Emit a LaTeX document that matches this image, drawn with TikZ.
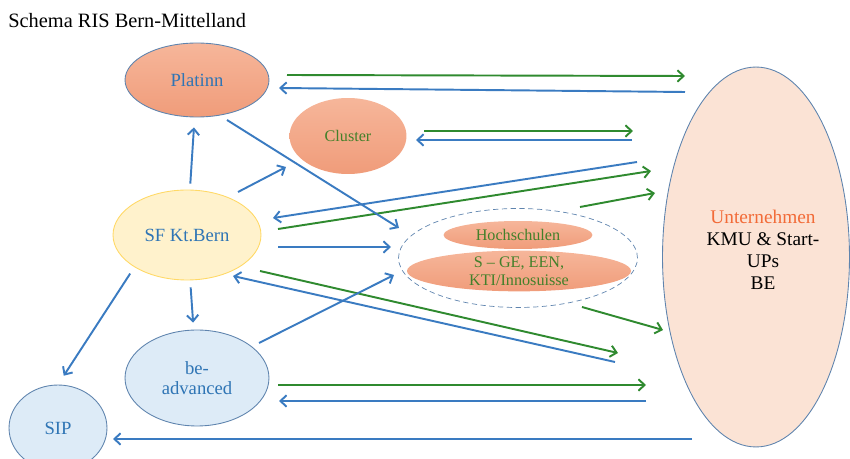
\documentclass[tikz,border=0pt]{standalone}
\usepackage{fontspec}
\setmainfont{Liberation Serif}
\usetikzlibrary{shapes.geometric,arrows.meta}

\definecolor{risblue}{HTML}{3A7BC1}
\definecolor{risgreen}{HTML}{2F8A2F}
\definecolor{textblue}{HTML}{2F75B5}
\definecolor{textgreen}{HTML}{43802A}
\definecolor{textorange}{HTML}{F26B38}
\definecolor{salmontop}{HTML}{F6B69A}
\definecolor{salmonbot}{HTML}{F09C7A}
\definecolor{edgeblue}{HTML}{5F84AE}
\definecolor{sfyellow}{HTML}{FFF2CC}
\definecolor{sfedge}{HTML}{FFD966}
\definecolor{lightblue}{HTML}{DDEBF7}
\definecolor{peach}{HTML}{FBE3D5}

\begin{document}
\begin{tikzpicture}[x=0.02cm,y=-0.02cm,font=\fontsize{10.6}{12.5}\selectfont,
	>={Straight Barb[length=3.5pt,width=6.5pt]}]
	
	% Styles for the blobs and the two kinds of arrows
	\tikzset{
		salmonblob/.style={ellipse,top color=salmontop,bottom color=salmonbot,
			inner sep=0pt,font=\fontsize{9.2}{10.2}\selectfont,text=textgreen,align=center},
		blueblob/.style={ellipse,draw=edgeblue,line width=0.5pt,fill=lightblue,
			inner sep=0pt,text=textblue,align=center},
		barrow/.style={->,color=risblue,line width=1.1pt},
		garrow/.style={->,color=risgreen,line width=1.1pt}
	}
	
	\useasboundingbox (0,0) rectangle (850,459);
	
	% Title
	\node[anchor=west,inner sep=0pt,font=\fontsize{11.6}{13}\selectfont] (title) at (8,21)
	{Schema RIS Bern-Mittelland};
	
	%========================================
	% Blobs
	%========================================
	\node[salmonblob,draw=edgeblue,line width=0.5pt,text=textblue,
	font=\fontsize{10.6}{12.5}\selectfont,
	minimum width=2.88cm,minimum height=1.48cm] (platinn) at (197,80) {Platinn};
	\node[salmonblob,minimum width=2.34cm,minimum height=1.52cm] (cluster) at (348,136) {Cluster};
	\node[ellipse,draw=sfedge,line width=0.5pt,fill=sfyellow,text=textblue,
	minimum width=2.96cm,minimum height=1.8cm] (sfbern) at (187,235) {SF Kt.Bern};
	
	% Hochschulen group
	\node[ellipse,draw=edgeblue,densely dashed,line width=0.4pt,
	minimum width=4.78cm,minimum height=1.98cm] (group) at (518,258) {};
	\node[salmonblob,minimum width=2.98cm,minimum height=0.56cm] (hochschulen) at (518,235) {Hochschulen};
	\node[salmonblob,minimum width=4.48cm,minimum height=0.78cm] (sge) at (519,271)
	{S -- GE, EEN,\\KTI/Innosuisse};
	
	% Unternehmen
	\node[ellipse,draw=edgeblue,line width=0.5pt,fill=peach,
	minimum width=3.74cm,minimum height=7.6cm] (unternehmen) at (756,257) {};
	\node[align=center,font=\fontsize{11}{12.5}\selectfont] (untext) at (763,250)
	{\textcolor{textorange}{Unternehmen}\\KMU \& Start-\\UPs\\BE};
	
	% be-advanced and SIP
	\node[blueblob,font=\fontsize{10.6}{11.3}\selectfont,
	minimum width=2.88cm,minimum height=1.92cm] (beadvanced) at (197,378) {be-\\advanced};
	\node[blueblob,minimum width=1.96cm,minimum height=1.72cm] (sip) at (58,428) {SIP};
	
	%========================================
	% Free arrow ends
	%========================================
	\coordinate (PU1) at (287,75);  \coordinate (PU2) at (685,76);
	\coordinate (UP1) at (685,92);  \coordinate (UP2) at (279,88);
	\coordinate (CU1) at (424,131); \coordinate (CU2) at (633,131);
	\coordinate (UC1) at (632,140); \coordinate (UC2) at (416,140);
	\coordinate (US1) at (637,162); \coordinate (US2) at (273,218);
	\coordinate (SU1) at (278,229); \coordinate (SU2) at (651,171);
	\coordinate (HU1) at (580,207); \coordinate (HU2) at (655,193);
	\coordinate (PH1) at (227,120); \coordinate (PH2) at (399,228);
	\coordinate (SC1) at (238,192); \coordinate (SC2) at (286,167);
	\coordinate (SH1) at (278,247); \coordinate (SH2) at (391,247);
	\coordinate (US3) at (615,362); \coordinate (US4) at (233,276);
	\coordinate (SU3) at (260,271); \coordinate (SU4) at (618,353);
	\coordinate (BH1) at (259,343); \coordinate (BH2) at (394,275);
	\coordinate (HU3) at (582,307); \coordinate (HU4) at (663,330);
	\coordinate (BU1) at (278,385); \coordinate (BU2) at (646,385);
	\coordinate (UB1) at (646,401); \coordinate (UB2) at (279,401);
	\coordinate (UI1) at (692,439); \coordinate (UI2) at (113,439);
	
	%========================================
	% Arrows
	%========================================
	% Platinn <-> Unternehmen
	\draw[garrow] (PU1) -- (PU2);
	\draw[barrow] (UP1) -- (UP2);
	
	% Cluster <-> Unternehmen
	\draw[garrow] (CU1) -- (CU2);
	\draw[barrow] (UC1) -- (UC2);
	
	% SF Kt.Bern <-> Unternehmen
	\draw[barrow] (US1) -- (US2);
	\draw[garrow] (SU1) -- (SU2);
	\draw[barrow] (US3) -- (US4);
	\draw[garrow] (SU3) -- (SU4);
	
	% Hochschulen -> Unternehmen
	\draw[garrow] (HU1) -- (HU2);
	\draw[garrow] (HU3) -- (HU4);
	
	% into the Hochschulen group
	\draw[barrow] (PH1) -- (PH2);
	\draw[barrow] (SH1) -- (SH2);
	\draw[barrow] (BH1) -- (BH2);
	
	% from SF Kt.Bern
	\draw[barrow,shorten <=3.4pt,shorten >=5.7pt] (sfbern) -- (platinn);
	\draw[barrow] (SC1) -- (SC2);
	\draw[barrow,shorten <=4pt,shorten >=4pt] (sfbern) -- (beadvanced);
	\draw[barrow,shorten <=4.4pt,shorten >=6pt] (sfbern.south west) -- (sip.north);
	
	% be-advanced <-> Unternehmen, Unternehmen -> SIP
	\draw[garrow] (BU1) -- (BU2);
	\draw[barrow] (UB1) -- (UB2);
	\draw[barrow] (UI1) -- (UI2);
	
\end{tikzpicture}
\end{document}
